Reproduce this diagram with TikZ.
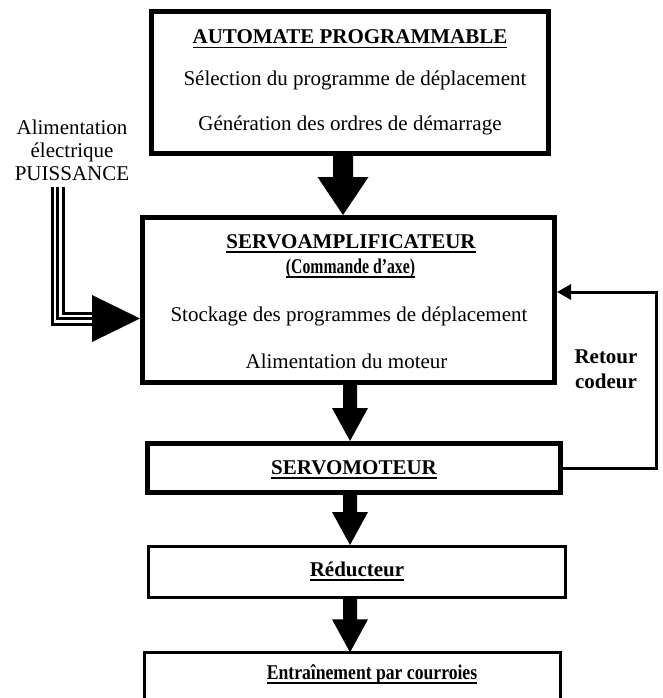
\documentclass[tikz,border=0pt]{standalone}
\usepackage{fontspec}
\setmainfont{Liberation Serif}
\usetikzlibrary{arrows.meta,calc}
\newcommand\myul[1]{\setbox0\hbox{#1}\rlap{\rule[-4.5pt]{\wd0}{1.7pt}}\box0}
\newcommand\fatdown[6]{%
  \fill let \p1=(#1.south), \p2=(#2.north), \p3=(#3,0) in
  (\x3-#4pt,\y1) -- (\x3+#4pt,\y1) -- (\x3+#4pt,\y2+#6pt) -- (\x3+#5pt,\y2+#6pt)
  -- (\x3,\y2) -- (\x3-#5pt,\y2+#6pt) -- (\x3-#4pt,\y2+#6pt) -- cycle;}
\begin{document}
\begin{tikzpicture}[x=1pt,y=-1pt,
  box/.style={draw, line width=5pt, inner sep=0pt},
  thinbox/.style={draw, line width=3pt, inner sep=0pt},
  txt/.style={anchor=base, inner sep=0pt, font=\fontsize{21}{21}\selectfont},
  btxt/.style={txt, font=\fontsize{21}{21}\selectfont\bfseries},
  fbline/.style={line width=3pt, line join=miter, -{Triangle[length=14pt,width=15pt]}}]
\useasboundingbox (0,0) rectangle (662,698);
\fill[white] (0,0) rectangle (662,698);
% boxes
\node[box, minimum width=397pt, minimum height=142pt] (b1) at (350,82.5) {};
\node[box, minimum width=412pt, minimum height=165pt] (b2) at (348.5,300) {};
\node[box, minimum width=413pt, minimum height=49pt] (b3) at (354,468) {};
\node[thinbox, minimum width=417pt, minimum height=51pt] (b4) at (357,572) {};
\node[inner sep=0pt, minimum width=416pt, minimum height=45.5pt] (b5) at (352.5,675.25) {};
\draw[line width=3pt, line join=miter] (b5.south west) -- (b5.north west) -- (b5.north east) -- (b5.south east);
% texts
\node[btxt] (t1) at (350,44) {\myul{AUTOMATE PROGRAMMABLE}};
\node[txt] (t2) at (355,86) {Sélection du programme de déplacement};
\node[txt] (t3) at (350,131) {Génération des ordres de démarrage};
\node[btxt] (t4) at (351,248) {\myul{SERVOAMPLIFICATEUR}};
\node[btxt] (t5) at (350.5,273) {\scalebox{0.75}[1]{\myul{(Commande d’axe)}}};
\node[txt] (t6) at (349,321) {Stockage des programmes de déplacement};
\node[txt] (t7) at (346.5,368) {Alimentation du moteur};
\node[btxt] (t8) at (354,474) {\myul{SERVOMOTEUR}};
\node[btxt] (t9) at (357,576) {\myul{Réducteur}};
\node[btxt] (t10) at (372,679) {\scalebox{0.84}[1]{\myul{Entraînement par courroies}}};
\node[btxt] (t11) at (606,363) {Retour};
\node[btxt] (t12) at (606,388) {codeur};
\node[txt] (l1) at (72,134) {Alimentation};
\node[txt] (l2) at (72,157) {électrique};
\node[txt] (l3) at (72,180) {PUISSANCE};
% fat arrows
\fatdown{b1}{b2}{343}{10}{25.5}{38}
\fatdown{b2}{b3}{350}{7}{18}{33}
\fatdown{b3}{b4}{350}{7}{18}{33}
\fatdown{b4}{b5}{350}{7}{18}{33}
% feedback
\coordinate (fb) at (656,292);
\draw[fbline] (b3.east) -| (fb) -- (fb -| b2.east);
% power supply
\coordinate (pw) at (57.5,187);
\coordinate (pwb) at (92,318.5);
\draw[line width=14pt, line join=miter] (pw) |- (pwb);
\draw[white, line width=8pt, line join=miter] (pw) |- (pwb);
\draw[line width=3pt, line join=miter] (pw) |- (pwb);
\fill ([yshift=23.5pt]pwb) -- ([yshift=-23.5pt]pwb) -- (pwb -| b2.west) -- cycle;
\end{tikzpicture}
\end{document}
